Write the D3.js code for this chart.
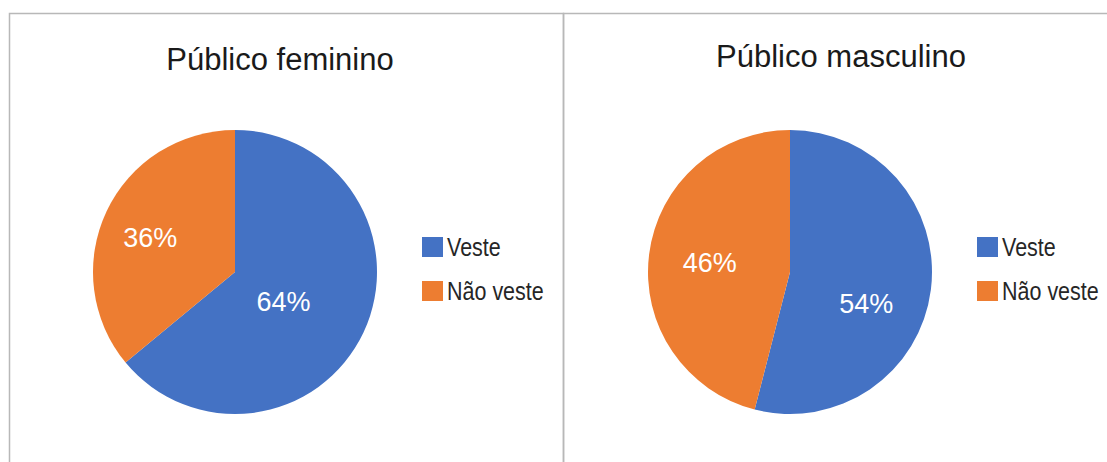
<!DOCTYPE html>
<html>
<head>
<meta charset="utf-8">
<script src="https://cdn.jsdelivr.net/npm/d3@7"></script>
<style>
  html, body { margin: 0; padding: 0; background: #fff; }
  svg { display: block; }
</style>
</head>
<body>
<svg id="chart" width="1107" height="462"></svg>
<script>
// Survey answers per audience, in percent
const categories = ["Veste", "Não veste"];
const titles = ["Público feminino", "Público masculino"];
const feminino = [64, 36];
const masculino = [54, 46];

const colors = ["#4472C4", "#ED7D31"];

// Panel geometry and label placement (radius fraction + angle nudge in degrees)
const panels = [
  { values: feminino, title: titles[0], x: 9.5, w: 554, cx: 235, titleX: 280, titleY: 70,
    labels: [{ r: 0.40, da: 6 }, { r: 0.645, da: -3 }] },
  { values: masculino, title: titles[1], x: 563.5, w: 600, cx: 790, titleX: 841, titleY: 67,
    labels: [{ r: 0.58, da: 15 }, { r: 0.57, da: 0 }] }
];

const cy = 272, radius = 142;
const svg = d3.select("#chart");

svg.append("rect").attr("width", 1107).attr("height", 462).attr("fill", "#fff");

const pie = d3.pie().sort(null).value(d => d);
const arc = d3.arc().innerRadius(0).outerRadius(radius);

panels.forEach(p => {
  svg.append("rect")
    .attr("x", p.x).attr("y", 13.5)
    .attr("width", p.w).attr("height", 520)
    .attr("fill", "none")
    .attr("stroke", "#b8b8b8")
    .attr("stroke-width", 1.5);

  svg.append("text")
    .attr("x", p.titleX).attr("y", p.titleY)
    .attr("text-anchor", "middle")
    .attr("font-family", "'Liberation Sans', Arial, sans-serif")
    .attr("font-size", 31)
    .attr("fill", "#1a1a1a")
    .text(p.title);

  const g = svg.append("g").attr("transform", `translate(${p.cx},${cy})`);
  const arcs = pie(p.values);

  g.selectAll("path")
    .data(arcs)
    .join("path")
    .attr("d", arc)
    .attr("fill", (d, i) => colors[i]);

  g.selectAll("text")
    .data(arcs)
    .join("text")
    .attr("transform", (d, i) => {
      const lp = p.labels[i];
      const a = (d.startAngle + d.endAngle) / 2 + lp.da * Math.PI / 180;
      const rr = radius * lp.r;
      return `translate(${Math.sin(a) * rr},${-Math.cos(a) * rr})`;
    })
    .attr("text-anchor", "middle")
    .attr("dy", "0.36em")
    .attr("font-family", "'Liberation Sans', Arial, sans-serif")
    .attr("font-size", 27)
    .attr("fill", "#fff")
    .text(d => d.data + "%");

  // Legend with condensed labels
  const legend = svg.append("g").attr("transform", `translate(${p.cx + 187},237)`);
  const item = legend.selectAll("g")
    .data(categories)
    .join("g")
    .attr("transform", (d, i) => `translate(0,${i * 44})`);
  item.append("rect")
    .attr("width", 21).attr("height", 20)
    .attr("fill", (d, i) => colors[i]);
  item.append("text")
    .attr("transform", "translate(25,19) scale(0.86,1)")
    .attr("font-family", "'Liberation Sans', Arial, sans-serif")
    .attr("font-size", 25)
    .attr("fill", "#262626")
    .text(d => d);
});
</script>
</body>
</html>
